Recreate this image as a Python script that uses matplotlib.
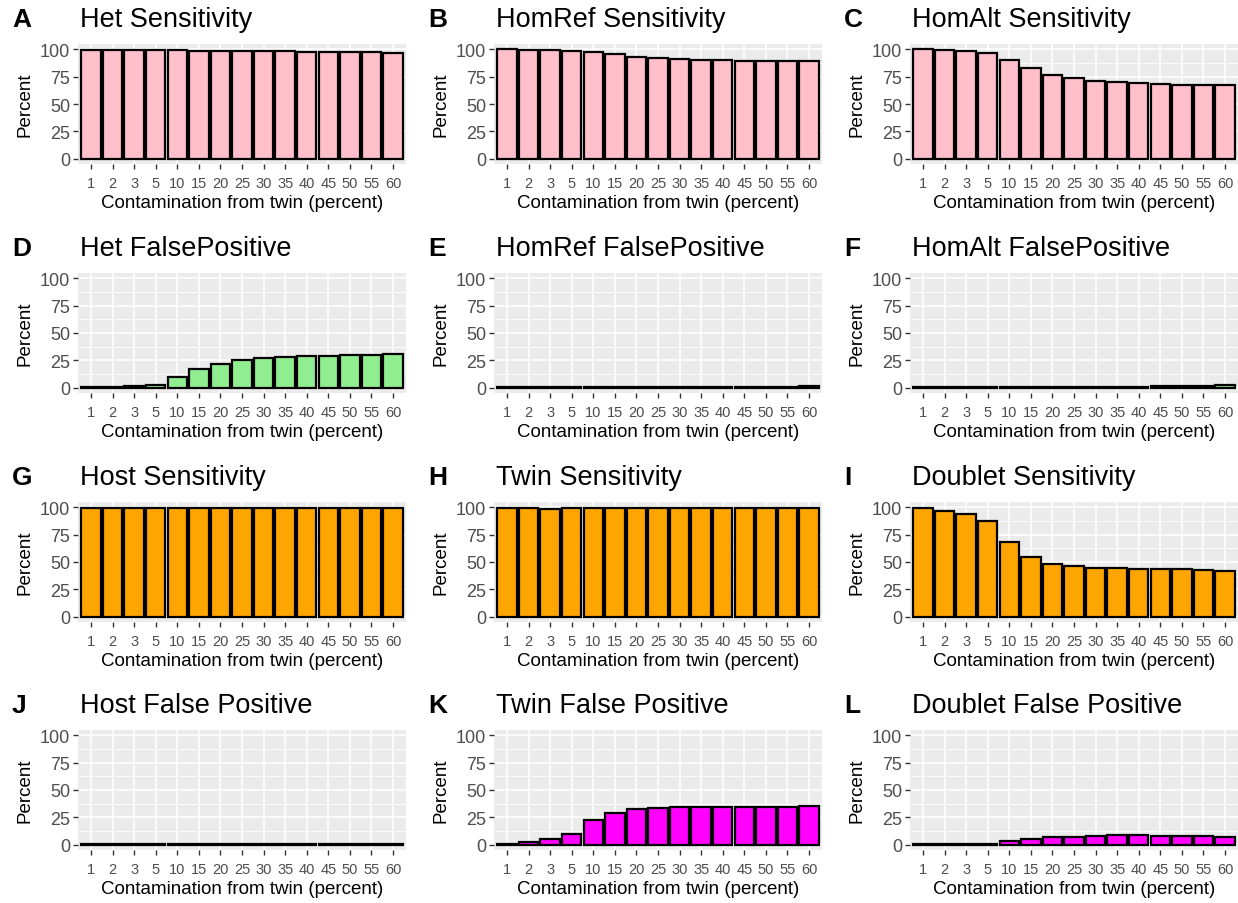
import matplotlib
matplotlib.use("Agg")
import matplotlib.pyplot as plt
import numpy as np

plt.rcParams['font.family'] = ['Liberation Sans', 'DejaVu Sans']

contam = ["1", "2", "3", "5", "10", "15", "20", "25", "30", "35", "40", "45", "50", "55", "60"]

het_sens = [99.5, 99.5, 99.3, 99.3, 99.2, 99.0, 98.8, 98.7, 98.5, 98.3, 98.1, 98.0, 97.8, 97.3, 96.8]
homref_sens = [100.0, 99.7, 99.4, 99.0, 97.5, 95.7, 93.5, 92.3, 91.0, 90.4, 90.4, 89.8, 89.8, 89.8, 89.8]
homalt_sens = [100.0, 99.7, 98.5, 96.9, 90.4, 83.0, 77.0, 73.4, 71.2, 70.0, 69.0, 68.4, 67.8, 67.5, 67.5]

het_fp = [0.2, 0.3, 1.0, 2.5, 9.6, 17.0, 21.7, 25.0, 27.0, 28.2, 28.8, 29.0, 29.7, 29.8, 30.3]
homref_fp = [0.1, 0.1, 0.2, 0.2, 0.3, 0.4, 0.4, 0.5, 0.5, 0.5, 0.6, 0.6, 0.7, 0.9, 1.2]
homalt_fp = [0.1, 0.2, 0.3, 0.4, 0.5, 0.6, 0.6, 0.7, 0.7, 0.8, 0.8, 1.2, 1.3, 1.5, 2.0]

host_sens = [99.9, 99.9, 99.9, 99.9, 99.9, 99.9, 99.9, 99.9, 99.9, 99.9, 99.9, 99.9, 99.9, 99.9, 99.9]
twin_sens = [99.8, 99.2, 99.0, 99.2, 99.8, 99.8, 99.8, 99.9, 99.9, 99.9, 99.9, 99.9, 99.9, 99.9, 99.9]
doublet_sens = [99.4, 97.2, 93.8, 87.3, 68.7, 54.8, 48.3, 46.7, 44.9, 44.3, 43.7, 43.7, 43.3, 42.4, 41.5]

host_fp = [0.1, 0.1, 0.1, 0.1, 0.1, 0.1, 0.1, 0.1, 0.1, 0.1, 0.1, 0.1, 0.1, 0.1, 0.1]
twin_fp = [0.6, 2.7, 4.9, 10.0, 22.9, 29.0, 32.3, 33.5, 34.1, 34.8, 34.8, 34.5, 34.5, 34.5, 35.0]
doublet_fp = [0.2, 0.2, 0.3, 0.9, 3.7, 5.2, 7.3, 7.3, 8.2, 8.5, 8.5, 8.2, 8.2, 7.9, 6.7]

panels = [
    ("A", "Het Sensitivity", het_sens, "pink"),
    ("B", "HomRef Sensitivity", homref_sens, "pink"),
    ("C", "HomAlt Sensitivity", homalt_sens, "pink"),
    ("D", "Het FalsePositive", het_fp, "lightgreen"),
    ("E", "HomRef FalsePositive", homref_fp, "lightgreen"),
    ("F", "HomAlt FalsePositive", homalt_fp, "lightgreen"),
    ("G", "Host Sensitivity", host_sens, "orange"),
    ("H", "Twin Sensitivity", twin_sens, "orange"),
    ("I", "Doublet Sensitivity", doublet_sens, "orange"),
    ("J", "Host False Positive", host_fp, "magenta"),
    ("K", "Twin False Positive", twin_fp, "magenta"),
    ("L", "Doublet False Positive", doublet_fp, "magenta"),
]

W, H = 1238, 904
fig = plt.figure(figsize=(W / 100, H / 100), dpi=100)

# pixel layout of the 4x3 grid of panels
col_left = [78, 494, 910]
row_top = [45, 274, 503, 731]
pw, ph = 328, 120

x = np.arange(len(contam))
for i, (letter, title, vals, col) in enumerate(panels):
    r, c = divmod(i, 3)
    left, top = col_left[c], row_top[r]
    ax = fig.add_axes([left / W, (H - top - ph) / H, pw / W, ph / H])
    ax.set_facecolor("#EBEBEB")
    ax.bar(x, vals, width=0.9, color=col, edgecolor="black", linewidth=1.6, zorder=3)
    ax.set_xlim(-0.6, len(contam) - 0.4)
    ax.set_ylim(-5, 105)
    ax.set_yticks([0, 25, 50, 75, 100])
    ax.set_yticks([12.5, 37.5, 62.5, 87.5], minor=True)
    ax.set_xticks(x)
    ax.set_xticklabels(contam)
    ax.grid(which="major", color="white", linewidth=1.1, zorder=0)
    ax.grid(which="minor", axis="y", color="white", linewidth=0.55, zorder=0)
    ax.tick_params(which="minor", length=0)
    ax.tick_params(axis="y", which="major", length=3.5, width=1.0, color="#333333",
                   labelsize=13, labelcolor="#4D4D4D", pad=2)
    ax.tick_params(axis="x", which="major", length=3.5, width=1.0, color="#333333",
                   labelsize=10.5, labelcolor="#4D4D4D", pad=5)
    for s in ax.spines.values():
        s.set_visible(False)
    ax.set_ylabel("Percent", fontsize=13.5, labelpad=5)
    ax.set_xlabel("Contamination from twin (percent)", fontsize=13.5, labelpad=3)
    fig.text((left + 2) / W, 1 - (top - 25) / H, title, fontsize=19.5, va="center", ha="left")
    fig.text((left - 66) / W, 1 - (top - 25) / H, letter, fontsize=19, fontweight="bold",
             va="center", ha="left")

fig.savefig("out.png", dpi=100)
